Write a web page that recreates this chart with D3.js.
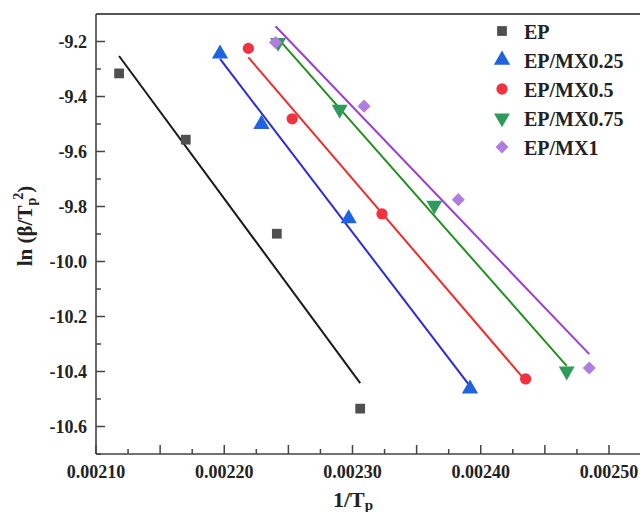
<!DOCTYPE html>
<html>
<head>
<meta charset="utf-8">
<script src="https://cdn.jsdelivr.net/npm/d3@7"></script>
<style>
  html, body { margin: 0; padding: 0; background: #fff; }
  svg { display: block; }
  text { font-family: "Liberation Serif", "Times New Roman", serif; font-weight: bold; fill: #222; }
</style>
</head>
<body>
<svg id="chart" width="640" height="512"></svg>
<script>
// Kissinger plot: ln(beta/Tp^2) against 1/Tp for each sample
const seriesNames = ["EP", "EP/MX0.25", "EP/MX0.5", "EP/MX0.75", "EP/MX1"];
const invTp = [
  [0.002118, 0.002170, 0.002241, 0.002306],
  [0.0021967, 0.002229, 0.002297, 0.0023916],
  [0.0022188, 0.002253, 0.002323, 0.002435],
  [0.002242, 0.002290, 0.0023638, 0.002467],
  [0.002240, 0.002309, 0.0023825, 0.0024846]
];
const lnRate = [
  [-9.316, -9.557, -9.899, -10.535],
  [-9.245, -9.501, -9.844, -10.463],
  [-9.225, -9.481, -9.827, -10.427],
  [-9.204, -9.447, -9.796, -10.399],
  [-9.204, -9.435, -9.775, -10.387]
];
const xTickLabels = [0.0021, 0.0022, 0.0023, 0.0024, 0.0025];
const yTickLabels = [-9.2, -9.4, -9.6, -9.8, -10.0, -10.2, -10.4, -10.6];

const markerFill = ["#4f4f4f", "#1f63e0", "#ef3340", "#2f9a5c", "#b07ee0"];
const lineColor  = ["#1a1a1a", "#2a2ae0", "#f52a2a", "#23901f", "#9a3ed4"];
const markerType = [d3.symbolSquare, d3.symbolTriangle, d3.symbolCircle, d3.symbolTriangle, d3.symbolSquare];
const markerSize = [95, 115, 100, 110, 85];
const markerRot  = [0, 0, 0, 180, 45];

const svg = d3.select("#chart");
const x = d3.scaleLinear().domain([0.0021, 0.00254]).range([96, 660.3]);
const y = d3.scaleLinear().domain([-10.7, -9.1]).range([454, 14]);
const axisColor = "#444";

// frame: top edge
svg.append("line").attr("x1", 96).attr("x2", 640).attr("y1", 14).attr("y2", 14)
  .attr("stroke", "#555").attr("stroke-width", 2);

// x axis with inward ticks
const xMajor = d3.range(0, 17).map(i => 0.0021 + i * 0.00005);
const xMinor = d3.range(0, 16).map(i => 0.002125 + i * 0.00005);
const gx = svg.append("g").attr("transform", "translate(0,454)");
gx.append("line").attr("x1", 96).attr("x2", 640).attr("stroke", axisColor).attr("stroke-width", 1.6);
gx.selectAll("line.maj").data(xMajor.filter(v => x(v) < 640)).join("line").attr("class", "maj")
  .attr("x1", d => x(d)).attr("x2", d => x(d)).attr("y1", 0).attr("y2", -9)
  .attr("stroke", axisColor).attr("stroke-width", 1.5);
gx.selectAll("line.min").data(xMinor.filter(v => x(v) < 640)).join("line").attr("class", "min")
  .attr("x1", d => x(d)).attr("x2", d => x(d)).attr("y1", 0).attr("y2", -5)
  .attr("stroke", axisColor).attr("stroke-width", 1.5);
gx.selectAll("text").data(xTickLabels).join("text")
  .attr("x", d => x(d)).attr("y", 24).attr("text-anchor", "middle")
  .attr("font-size", 18).text(d => d.toFixed(5));

// y axis with inward ticks
const yMinor = d3.range(0, 8).map(i => -9.3 - i * 0.2);
const gy = svg.append("g");
gy.append("line").attr("x1", 96).attr("x2", 96).attr("y1", 14).attr("y2", 454)
  .attr("stroke", axisColor).attr("stroke-width", 1.6);
gy.selectAll("line.maj").data(yTickLabels).join("line").attr("class", "maj")
  .attr("x1", 96).attr("x2", 105).attr("y1", d => y(d)).attr("y2", d => y(d))
  .attr("stroke", axisColor).attr("stroke-width", 1.5);
gy.selectAll("line.min").data(yMinor).join("line").attr("class", "min")
  .attr("x1", 96).attr("x2", 101).attr("y1", d => y(d)).attr("y2", d => y(d))
  .attr("stroke", axisColor).attr("stroke-width", 1.5);
gy.selectAll("text").data(yTickLabels).join("text")
  .attr("x", 87).attr("y", d => y(d) + 6).attr("text-anchor", "end")
  .attr("font-size", 18).text(d => d.toFixed(1));

// least-squares fit lines
function fit(xs, ys) {
  const mx = d3.mean(xs), my = d3.mean(ys);
  let sxy = 0, sxx = 0;
  xs.forEach((v, i) => { sxy += (v - mx) * (ys[i] - my); sxx += (v - mx) * (v - mx); });
  const k = sxy / sxx;
  return v => my + k * (v - mx);
}
seriesNames.forEach((name, s) => {
  const f = fit(invTp[s], lnRate[s]);
  const x0 = d3.min(invTp[s]), x1 = d3.max(invTp[s]);
  svg.append("line")
    .attr("x1", x(x0)).attr("y1", y(f(x0)))
    .attr("x2", x(x1)).attr("y2", y(f(x1)))
    .attr("stroke", lineColor[s]).attr("stroke-width", 2);
});

// markers
seriesNames.forEach((name, s) => {
  const sym = d3.symbol().type(markerType[s]).size(markerSize[s]);
  svg.append("g").selectAll("path").data(invTp[s].map((v, i) => [v, lnRate[s][i]])).join("path")
    .attr("d", sym)
    .attr("transform", d => `translate(${x(d[0])},${y(d[1])}) rotate(${markerRot[s]})`)
    .attr("fill", markerFill[s]);
});

// legend
const legendRows = [32, 61, 90, 119, 148];
const lg = svg.append("g");
seriesNames.forEach((name, s) => {
  const sym = d3.symbol().type(markerType[s]).size(markerSize[s]);
  lg.append("path").attr("d", sym)
    .attr("transform", `translate(502,${legendRows[s] - 1}) rotate(${markerRot[s]})`)
    .attr("fill", markerFill[s]);
  lg.append("text").attr("x", 524).attr("y", legendRows[s] + 7)
    .attr("font-size", 20).text(name);
});

// axis titles
const xt = svg.append("text").attr("x", 333).attr("y", 507).attr("font-size", 22);
xt.append("tspan").text("1/T");
xt.append("tspan").attr("font-size", 15).attr("dy", 3).text("p");

const yt = svg.append("text").attr("transform", "translate(32,226) rotate(-90)")
  .attr("text-anchor", "middle").attr("font-size", 21);
yt.append("tspan").text("ln (β/T");
yt.append("tspan").attr("font-size", 14).attr("dy", 4).text("p");
yt.append("tspan").attr("font-size", 14).attr("dy", -13).attr("dx", -2).text("2");
yt.append("tspan").attr("dy", 9).text(")");
</script>
</body>
</html>
